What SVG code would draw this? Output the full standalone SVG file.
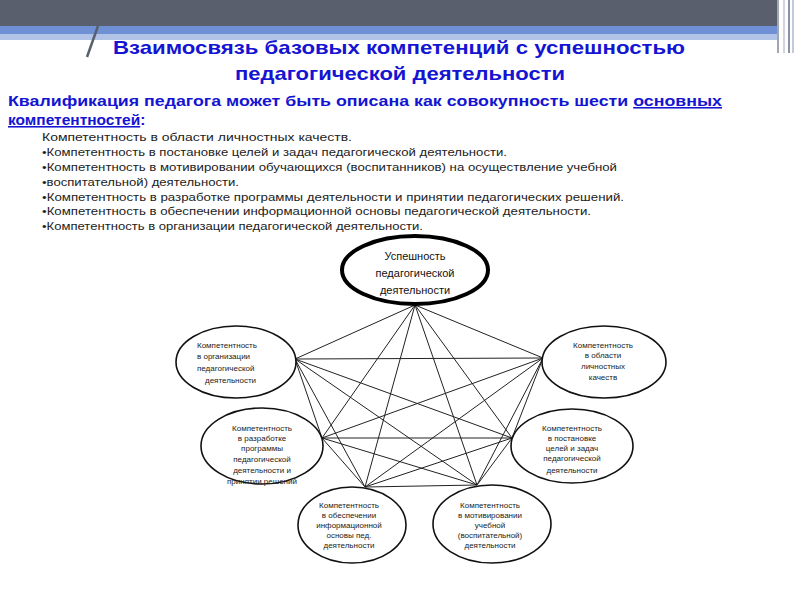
<svg xmlns="http://www.w3.org/2000/svg" width="800" height="600" viewBox="0 0 800 600">
<style>
.title{font-family:"Liberation Sans",Arial,sans-serif;font-weight:bold;font-size:19px;fill:#1414d2;text-anchor:middle}
.sub{font-family:"Liberation Sans",Arial,sans-serif;font-weight:bold;font-size:15.5px;fill:#1414d2}
.list{font-family:"Liberation Sans",Arial,sans-serif;font-size:10.5px;fill:#222}
.node{fill:#fff;stroke:#111;stroke-width:1.6}
.main{fill:#fff;stroke:#000;stroke-width:4}
.nt{font-family:"Liberation Sans",Arial,sans-serif;font-size:8px;fill:#222;text-anchor:middle}
.mt{font-family:"Liberation Sans",Arial,sans-serif;font-size:11px;fill:#111;text-anchor:middle}
.edges line{stroke:#222;stroke-width:1}
</style>
<rect width="800" height="600" fill="#fff"/>
<g id="header">
<rect x="0" y="0" width="777" height="26" fill="#5a5f6d"/>
<rect x="0" y="26" width="777" height="8" fill="#6f90d4"/>
<rect x="0" y="34" width="777" height="6" fill="#b2c3e8"/>
<line x1="690" y1="44" x2="740" y2="44" stroke="#fff" stroke-width="1"/>
<rect x="777" y="0" width="2" height="53" fill="#a0a6b2"/>
<rect x="783" y="0" width="2" height="53" fill="#d0d4dc"/>
<rect x="788" y="0" width="2" height="53" fill="#8a92a2"/>
<rect x="792" y="0" width="2" height="53" fill="#c4cbd8"/>
<line x1="98" y1="26" x2="87" y2="57" stroke="#5a5f6d" stroke-width="2.5"/>
</g>
<g id="title">
<text class="title" x="399" y="54" textLength="572" lengthAdjust="spacingAndGlyphs">Взаимосвязь базовых компетенций с успешностью</text>
<text class="title" x="400" y="80" textLength="330" lengthAdjust="spacingAndGlyphs">педагогической деятельности</text>
</g>
<g id="subtitle">
<text class="sub" x="8" y="106" textLength="714" lengthAdjust="spacingAndGlyphs">Квалификация педагога может быть описана как совокупность шести <tspan text-decoration="underline">основных</tspan></text>
<text class="sub" x="8" y="125"><tspan text-decoration="underline">компетентностей</tspan>:</text>
</g>
<g id="list">
<text class="list" x="42" y="141" textLength="310" lengthAdjust="spacingAndGlyphs">Компетентность в области личностных качеств.</text>
<text class="list" x="42" y="156" textLength="465" lengthAdjust="spacingAndGlyphs">•Компетентность в постановке целей и задач педагогической деятельности.</text>
<text class="list" x="42" y="171" textLength="575" lengthAdjust="spacingAndGlyphs">•Компетентность в мотивировании обучающихся (воспитанников) на осуществление учебной</text>
<text class="list" x="42" y="186" textLength="197" lengthAdjust="spacingAndGlyphs">•воспитательной) деятельности.</text>
<text class="list" x="42" y="201" textLength="582" lengthAdjust="spacingAndGlyphs">•Компетентность в разработке программы деятельности и принятии педагогических решений.</text>
<text class="list" x="42" y="215" textLength="549" lengthAdjust="spacingAndGlyphs">•Компетентность в обеспечении информационной основы педагогической деятельности.</text>
<text class="list" x="42" y="230" textLength="381" lengthAdjust="spacingAndGlyphs">•Компетентность в организации педагогической деятельности.</text>
</g>
<g class="edges" id="connectors">
<line x1="415" y1="305" x2="295" y2="359"/>
<line x1="415" y1="305" x2="543" y2="358"/>
<line x1="415" y1="305" x2="322" y2="438"/>
<line x1="415" y1="305" x2="512" y2="438"/>
<line x1="415" y1="305" x2="365" y2="487"/>
<line x1="415" y1="305" x2="477" y2="485"/>
<line x1="295" y1="359" x2="543" y2="358"/>
<line x1="295" y1="359" x2="322" y2="438"/>
<line x1="295" y1="359" x2="512" y2="438"/>
<line x1="295" y1="359" x2="365" y2="487"/>
<line x1="295" y1="359" x2="477" y2="485"/>
<line x1="543" y1="358" x2="322" y2="438"/>
<line x1="543" y1="358" x2="512" y2="438"/>
<line x1="543" y1="358" x2="365" y2="487"/>
<line x1="543" y1="358" x2="477" y2="485"/>
<line x1="322" y1="438" x2="512" y2="438"/>
<line x1="322" y1="438" x2="365" y2="487"/>
<line x1="322" y1="438" x2="477" y2="485"/>
<line x1="512" y1="438" x2="365" y2="487"/>
<line x1="512" y1="438" x2="477" y2="485"/>
<line x1="365" y1="487" x2="477" y2="485"/>
</g>
<g id="node-success">
<ellipse class="main" cx="415" cy="270" rx="73" ry="34"/>
<text class="mt" x="415" y="260">Успешность</text>
<text class="mt" x="415" y="277">педагогической</text>
<text class="mt" x="415" y="294">деятельности</text>
</g>
<g id="node-org">
<ellipse class="node" cx="236" cy="362" rx="60" ry="36"/>
<text class="nt" x="197" y="348" style="text-anchor:start">Компетентность</text>
<text class="nt" x="197" y="359" style="text-anchor:start">в организации</text>
<text class="nt" x="197" y="371" style="text-anchor:start">педагогической</text>
<text class="nt" x="205" y="383" style="text-anchor:start">деятельности</text>
</g>
<g id="node-personal">
<ellipse class="node" cx="604" cy="362" rx="62" ry="36"/>
<text class="nt" x="603" y="348">Компетентность</text>
<text class="nt" x="603" y="358">в области</text>
<text class="nt" x="603" y="369">личностных</text>
<text class="nt" x="603" y="380">качеств</text>
</g>
<g id="node-program">
<ellipse class="node" cx="262" cy="446" rx="61" ry="38"/>
<text class="nt" x="262" y="431">Компетентность</text>
<text class="nt" x="262" y="441">в разработке</text>
<text class="nt" x="262" y="451">программы</text>
<text class="nt" x="262" y="462">педагогической</text>
<text class="nt" x="262" y="473">деятельности и</text>
<text class="nt" x="262" y="484">принятии решений</text>
</g>
<g id="node-goals">
<ellipse class="node" cx="572" cy="446" rx="61" ry="37"/>
<text class="nt" x="572" y="431">Компетентность</text>
<text class="nt" x="572" y="441">в постановке</text>
<text class="nt" x="572" y="451">целей и задач</text>
<text class="nt" x="572" y="461">педагогической</text>
<text class="nt" x="572" y="473">деятельности</text>
</g>
<g id="node-info">
<ellipse class="node" cx="352" cy="525" rx="54" ry="38"/>
<text class="nt" x="349" y="508">Компетентность</text>
<text class="nt" x="349" y="518">в обеспечении</text>
<text class="nt" x="349" y="528">информационной</text>
<text class="nt" x="349" y="538">основы пед.</text>
<text class="nt" x="349" y="548">деятельности</text>
</g>
<g id="node-motivation">
<ellipse class="node" cx="492" cy="524" rx="59" ry="39"/>
<text class="nt" x="490" y="508">Компетентность</text>
<text class="nt" x="490" y="518">в мотивировании</text>
<text class="nt" x="490" y="528">учебной</text>
<text class="nt" x="490" y="538">(воспитательной)</text>
<text class="nt" x="490" y="548">деятельности</text>
</g>
</svg>
